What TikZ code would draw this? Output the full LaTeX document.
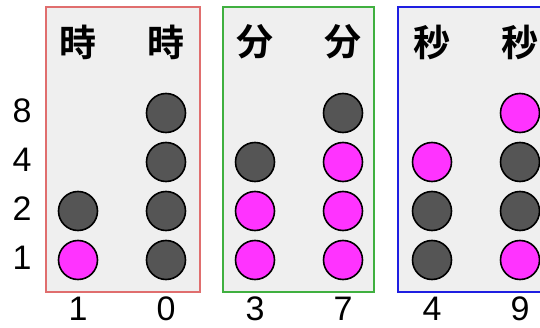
\documentclass[tikz,border=0pt]{standalone}
\usepackage{fontspec}
\setmainfont{Liberation Sans}
\newfontfamily\cjkfont{Noto Sans CJK JP Bold}
\definecolor{LampOn}{RGB}{255,51,255}
\definecolor{LampOff}{RGB}{85,85,85}
\definecolor{PanelGrey}{RGB}{239,239,239}
\definecolor{HourRed}{RGB}{224,110,110}
\definecolor{MinGreen}{RGB}{64,176,64}
\definecolor{SecBlue}{RGB}{30,30,225}
\usetikzlibrary{positioning}

\begin{document}
\begin{tikzpicture}[x=1pt, y=-1pt,
	lamp/.style={shape=circle, minimum size=39pt, inner sep=0pt, draw=black, line width=1.6pt},
	on/.style={lamp, fill=LampOn},
	off/.style={lamp, fill=LampOff},
	panel/.style={fill=PanelGrey, line width=1.8pt},
	digit/.style={font=\fontsize{34}{34}\selectfont, inner sep=0pt},
	kanji/.style={font=\cjkfont\fontsize{37}{37}\selectfont, inner sep=0pt}]
	\clip (0,0) rectangle (540,328);
	% panels
	\draw[panel, draw=HourRed] (46,7) rectangle (200,292);
	\draw[panel, draw=MinGreen] (223,7) rectangle (374,292);
	\draw[panel, draw=SecBlue] (398,7) rectangle (552,292);
	% weights
	\foreach \w/\y in {8/111, 4/160, 2/209, 1/258}
		\node (w\w) at (22,\y) [digit] {\w};
	% column heads and values
	\foreach \n/\x/\k/\v in {a/78/時/1, b/166/時/0, c/255/分/3, d/343/分/7, e/432/秒/4, f/520/秒/9} {
		\node (head\n) at (\x,42) [kanji] {\k};
		\node (val\n) at (\x,309) [digit] {\v};
	}
	% lamps
	\foreach \n/\x/\y/\s in {a2/78/211/off, a1/78/260/on,
			b8/166/113/off, b4/166/162/off, b2/166/211/off, b1/166/260/off,
			c4/255/162/off, c2/255/211/on, c1/255/260/on,
			d8/343/113/off, d4/343/162/on, d2/343/211/on, d1/343/260/on,
			e4/432/162/on, e2/432/211/off, e1/432/260/off,
			f8/520/113/on, f4/520/162/off, f2/520/211/off, f1/520/260/on}
		\node (lamp\n) at (\x,\y) [\s] {};
\end{tikzpicture}
\end{document}
